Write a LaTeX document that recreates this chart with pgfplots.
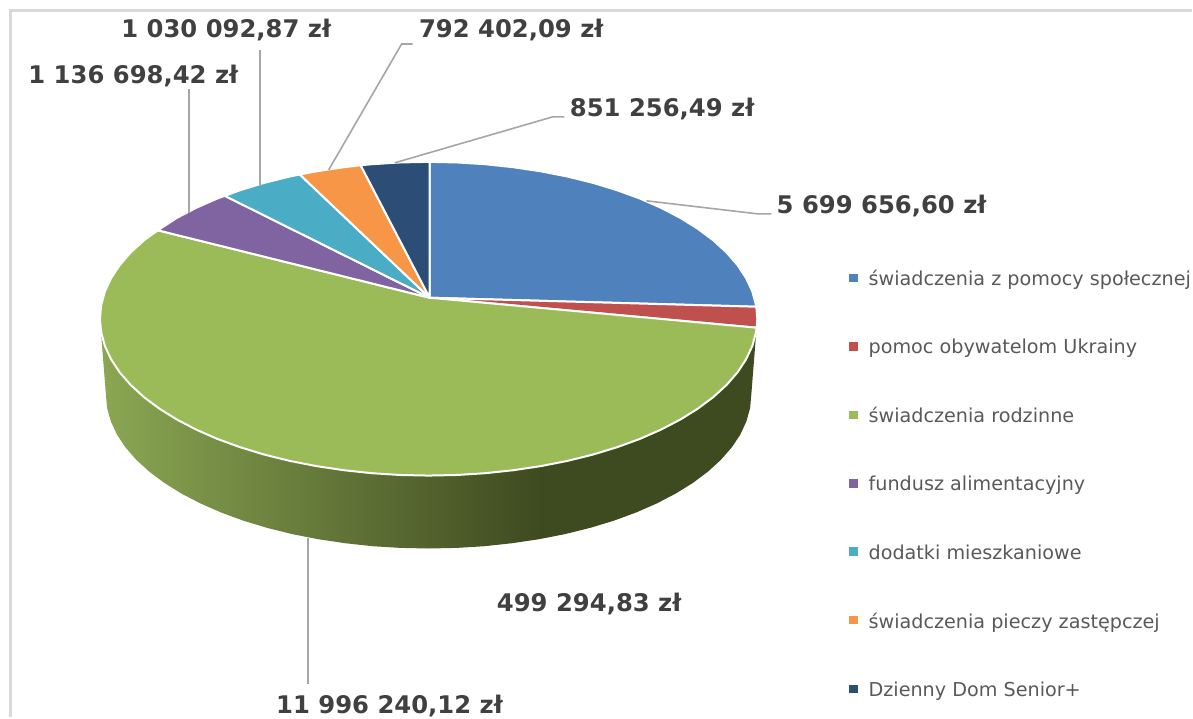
\documentclass[border=0pt]{standalone}
\usepackage{pgfplots}
\pgfplotsset{compat=1.18}
\usepackage{fontspec}
\setmainfont{DejaVu Sans}
\definecolor{c1}{HTML}{4F81BD}
\definecolor{c2}{HTML}{C0504D}
\definecolor{c3}{HTML}{9BBB59}
\definecolor{c4}{HTML}{8064A2}
\definecolor{c5}{HTML}{4BACC6}
\definecolor{c6}{HTML}{F79646}
\definecolor{c7}{HTML}{2C4D75}
\definecolor{lead}{HTML}{A6A6A6}
\definecolor{lab}{HTML}{404040}
\definecolor{leg}{HTML}{595959}
% side wall of the green slice: light on the left, darkest near x=540
\pgfdeclarehorizontalshading{wall}{100bp}{
  rgb(0bp)=(0.545,0.655,0.325); rgb(25bp)=(0.545,0.655,0.325);
  rgb(58.5bp)=(0.245,0.29,0.125); rgb(100bp)=(0.245,0.29,0.125)}
\begin{document}
\begin{tikzpicture}
\begin{axis}[
  scale only axis,
  width=596.5pt, height=359pt,
  xmin=0, xmax=1193, ymin=0, ymax=718,
  y dir=reverse,
  axis lines=none,
  clip=false,
  legend cell align=left,
  legend style={draw=none, fill=none, at={(axis cs:850,270.6)}, anchor=north west,
    font=\fontsize{9.6pt}{11pt}\selectfont\color{leg}, row sep=26.8pt,
    inner sep=0pt, outer sep=0pt, nodes={inner sep=0pt, text depth=0pt},
    /tikz/every odd column/.append style={column sep=5.5pt}},
  legend image code/.code={\path[#1,draw=none] (0pt,-2pt) rectangle (4.2pt,2.2pt);},
  wedge/.style={draw=white, line width=1pt, line join=round},
  leader/.style={lead, line width=0.8pt, forget plot},
]
% chart frame
\addplot[draw=black!15, line width=1.1pt, forget plot] coordinates {(10.5,718) (10.5,10.5) (1193,10.5)};
% wall
\addplot[shading=wall, draw=none, forget plot] coordinates {
(100,319) (106,395) (107.2,408.4) (110.9,421.7) (117,434.9) (125.5,447.7) (136.3,460.1)
(149.3,472) (164.4,483.3) (181.6,494) (200.6,503.9) (221.4,513) (243.7,521.2) (267.5,528.4)
(292.5,534.6) (318.5,539.7) (345.4,543.7) (372.9,546.7) (400.8,548.4) (429,549) (457.2,548.4)
(485.1,546.7) (512.6,543.7) (539.5,539.7) (565.5,534.6) (590.5,528.4) (614.3,521.2) (636.6,513)
(657.4,503.9) (676.4,494) (693.6,483.3) (708.7,472) (721.7,460.1) (732.5,447.7) (741,434.9)
(747.1,421.7) (750.8,408.4) (752,395) (758,319)} -- cycle;
% slices
\addplot[wedge, fill=c1] coordinates {
(430,298) (430,162) (457.7,162.6) (486.1,164.4) (514.1,167.4) (541.5,171.5) (568,176.7) (593.5,183)
(617.7,190.4) (640.5,198.7) (661.6,208) (681,218.1) (698.5,229) (713.9,240.5) (727.2,252.7)
(738.2,265.3) (746.8,278.4) (753,291.7) (756.7,305.3) (757,307)} -- cycle;
\addplot[wedge, fill=c2] coordinates {
(430,298) (757,307) (758,319) (757.4,328)} -- cycle;
\addplot[wedge, fill=c3] coordinates {
(430,298) (757.4,328) (756.7,332.7) (753,346.3) (746.8,359.6) (738.2,372.7) (727.2,385.3) (713.9,397.5)
(698.5,409) (681,419.9) (661.6,430) (640.5,439.3) (617.7,447.6) (593.5,455) (568,461.3) (541.5,466.5)
(514.1,470.6) (486.1,473.6) (457.7,475.4) (429,476) (400.3,475.4) (371.9,473.6) (343.9,470.6)
(316.5,466.5) (290,461.3) (264.5,455) (240.3,447.6) (217.5,439.3) (196.4,430) (177,419.9) (159.5,409)
(144.1,397.5) (130.8,385.3) (119.8,372.7) (111.2,359.6) (105,346.3) (101.3,332.7) (100,319)
(101.3,305.3) (105,291.7) (111.2,278.4) (119.8,265.3) (130.8,252.7) (144.1,240.5) (158,230.5)} -- cycle;
\addplot[wedge, fill=c4] coordinates {
(430,298) (158,230.5) (177,218.1) (196.4,208) (217.5,198.7) (225,196)} -- cycle;
\addplot[wedge, fill=c5] coordinates {
(430,298) (225,196) (240.3,190.4) (264.5,183) (290,176.7) (300,174.6)} -- cycle;
\addplot[wedge, fill=c6] coordinates {
(430,298) (300,174.6) (316.5,171.5) (343.9,167.4) (361,165.4)} -- cycle;
\addplot[wedge, fill=c7] coordinates {
(430,298) (361,165.4) (371.9,164.4) (400.3,162.6) (430,162)} -- cycle;
% leader lines
\addplot[leader] coordinates {(189,89) (189,213)};
\addplot[leader] coordinates {(260,50) (260,185)};
\addplot[leader] coordinates {(413,44) (402,44) (329,170)};
\addplot[leader] coordinates {(565,117) (553,117) (395,163)};
\addplot[leader] coordinates {(772,214) (758,214) (647,201)};
\addplot[leader] coordinates {(308,538) (308,685)};
\legend{świadczenia z pomocy społecznej, pomoc obywatelom Ukrainy, świadczenia rodzinne,
  fundusz alimentacyjny, dodatki mieszkaniowe, świadczenia pieczy zastępczej, Dzienny Dom Senior+}
% value labels
\begin{scope}[every node/.style={anchor=base west, inner sep=0pt, text=lab,
    font=\fontsize{12.15pt}{14pt}\selectfont\bfseries}]
\node at (axis cs:121,38) {1 030 092,87 zł};
\node at (axis cs:28,84) {1 136 698,42 zł};
\node at (axis cs:419,38) {792 402,09 zł};
\node at (axis cs:570,117) {851 256,49 zł};
\node at (axis cs:777,214) {5 699 656,60 zł};
\node at (axis cs:497,612) {499 294,83 zł};
\node at (axis cs:276,714) {11 996 240,12 zł};
\end{scope}
\path[use as bounding box] (axis cs:0,0) rectangle (axis cs:1193,718);
\end{axis}
\end{tikzpicture}
\end{document}
